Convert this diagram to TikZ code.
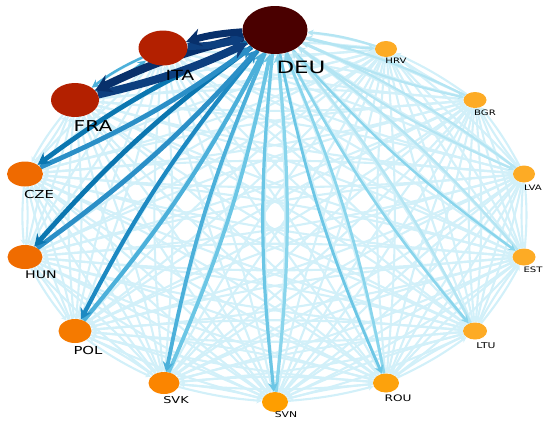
\documentclass[tikz,border=0pt]{standalone}
\usepackage{fontspec}
\setmainfont{DejaVu Sans}
\usepackage{graphicx}
\usetikzlibrary{shapes.geometric,arrows.meta}
\pgfdeclarelayer{bg}\pgfsetlayers{bg,main}
\definecolor{cDEU}{HTML}{4A0000}
\definecolor{cITA}{HTML}{B32000}
\definecolor{cCZE}{HTML}{EF6A00}
\definecolor{cHUN}{HTML}{F06C00}
\definecolor{cPOL}{HTML}{F57A00}
\definecolor{cSVK}{HTML}{FB8500}
\definecolor{cSVN}{HTML}{FE9E00}
\definecolor{cROU}{HTML}{FDA20C}
\definecolor{cSML}{HTML}{FDAB25}
\definecolor{cLight}{HTML}{D2F0F9}
\definecolor{eNavy}{HTML}{08306B}
\definecolor{eNavyB}{HTML}{0D3F7F}
\definecolor{eBlueA}{HTML}{0B76B0}
\definecolor{eBlueAr}{HTML}{2B8FC7}
\definecolor{eBlueB}{HTML}{1D89C2}
\definecolor{eBlueC}{HTML}{4CB0DA}
\definecolor{eBlueD}{HTML}{6CC6E5}
\definecolor{eBlueE}{HTML}{8AD5EC}
\definecolor{eBlueF}{HTML}{B4E5F3}
\begin{document}
\begin{tikzpicture}[x=1pt,y=-1pt,
  nd/.style={ellipse,inner sep=0pt,draw=none},
  lbl/.style={text=black,inner sep=0pt},
  lightedge/.style={draw=cLight,line width=2.1pt,-{Stealth[length=5.5pt,width=6pt]}}]
\useasboundingbox (0,0) rectangle (543,424);
% nodes
\node[nd,fill=cDEU,minimum width=65pt,minimum height=48pt] (n1) at (275,30) {};
\node[nd,fill=cITA,minimum width=49pt,minimum height=35pt] (n2) at (163,48) {};
\node[nd,fill=cITA,minimum width=48pt,minimum height=34pt] (n3) at (75,100) {};
\node[nd,fill=cCZE,minimum width=36pt,minimum height=25pt] (n4) at (25,174) {};
\node[nd,fill=cHUN,minimum width=35pt,minimum height=24pt] (n5) at (25,257) {};
\node[nd,fill=cPOL,minimum width=33pt,minimum height=24pt] (n6) at (75,331) {};
\node[nd,fill=cSVK,minimum width=31pt,minimum height=22pt] (n7) at (164,383) {};
\node[nd,fill=cSVN,minimum width=26pt,minimum height=20pt] (n8) at (275,402) {};
\node[nd,fill=cROU,minimum width=26pt,minimum height=19pt] (n9) at (386,383) {};
\node[nd,fill=cSML,minimum width=24pt,minimum height=17pt] (n10) at (475,331) {};
\node[nd,fill=cSML,minimum width=23pt,minimum height=17pt] (n11) at (524,257) {};
\node[nd,fill=cSML,minimum width=22pt,minimum height=17pt] (n12) at (524,174) {};
\node[nd,fill=cSML,minimum width=23pt,minimum height=16pt] (n13) at (475,100) {};
\node[nd,fill=cSML,minimum width=22pt,minimum height=16pt] (n14) at (386,49) {};
% edges
\begin{pgfonlayer}{bg}
\foreach \i in {1,...,14}{
  \foreach \j in {1,...,14}{
    \ifnum\i=\j\relax\else
      \draw[lightedge] (n\i) to[bend right=5] (n\j);
    \fi
  }
}
\draw[line width=2.5pt,draw=eBlueC,-{Stealth[length=8pt,width=8pt]}] (n3) to[bend right=6] (n2);
\draw[line width=2.5pt,draw=eBlueC,-{Stealth[length=8pt,width=8pt]}] (n2) to[bend right=6] (n3);
\foreach \t/\w/\c/\cr/\al/\aw in {
  14/2.2/eBlueF/eBlueF/6/6,
  13/2.2/eBlueF/eBlueF/6/6,
  12/2.2/eBlueF/eBlueF/6/6,
  11/2.4/eBlueE/eBlueF/7/7,
  10/2.6/eBlueE/eBlueF/8/8,
  9/2.8/eBlueD/eBlueE/8/9,
  8/3.2/eBlueD/eBlueE/9/10,
  7/3.8/eBlueC/eBlueD/10/11,
  6/4.2/eBlueB/eBlueC/11/12,
  5/4.8/eBlueA/eBlueAr/12/13,
  4/4.8/eBlueA/eBlueAr/12/13,
  3/8/eNavy/eNavyB/16/19,
  2/7/eNavy/eNavyB/15/18}{
  \draw[line width=\w pt,draw=\cr,-{Stealth[length=\al pt,width=\aw pt]}] (n\t) to[bend right=6] (n1);
  \draw[line width=\w pt,draw=\c,-{Stealth[length=\al pt,width=\aw pt]}] (n1) to[bend right=6] (n\t);
}
\end{pgfonlayer}
% labels
\node[lbl,font=\fontsize{17}{17}\selectfont] (l1) at (301,67) {\scalebox{1.35}[1]{DEU}};
\node[lbl,font=\fontsize{14}{14}\selectfont] (l2) at (180,75) {\scalebox{1.35}[1]{ITA}};
\node[lbl,font=\fontsize{15}{15}\selectfont] (l3) at (93,126) {\scalebox{1.35}[1]{FRA}};
\node[lbl,font=\fontsize{11}{11}\selectfont] (l4) at (39,194) {\scalebox{1.35}[1]{CZE}};
\node[lbl,font=\fontsize{10.5}{10.5}\selectfont] (l5) at (41,275) {\scalebox{1.35}[1]{HUN}};
\node[lbl,font=\fontsize{11}{11}\selectfont] (l6) at (88,350) {\scalebox{1.35}[1]{POL}};
\node[lbl,font=\fontsize{9.5}{9.5}\selectfont] (l7) at (176,400) {\scalebox{1.35}[1]{SVK}};
\node[lbl,font=\fontsize{8}{8}\selectfont] (l8) at (286,415) {\scalebox{1.35}[1]{SVN}};
\node[lbl,font=\fontsize{9}{9}\selectfont] (l9) at (398,398) {\scalebox{1.35}[1]{ROU}};
\node[lbl,font=\fontsize{8}{8}\selectfont] (l10) at (486,346) {\scalebox{1.35}[1]{LTU}};
\node[lbl,font=\fontsize{7.5}{7.5}\selectfont] (l11) at (533,270) {\scalebox{1.35}[1]{EST}};
\node[lbl,font=\fontsize{7.5}{7.5}\selectfont] (l12) at (533,188) {\scalebox{1.35}[1]{LVA}};
\node[lbl,font=\fontsize{7.5}{7.5}\selectfont] (l13) at (485,113) {\scalebox{1.35}[1]{BGR}};
\node[lbl,font=\fontsize{7.5}{7.5}\selectfont] (l14) at (396,61) {\scalebox{1.35}[1]{HRV}};
\end{tikzpicture}
\end{document}
